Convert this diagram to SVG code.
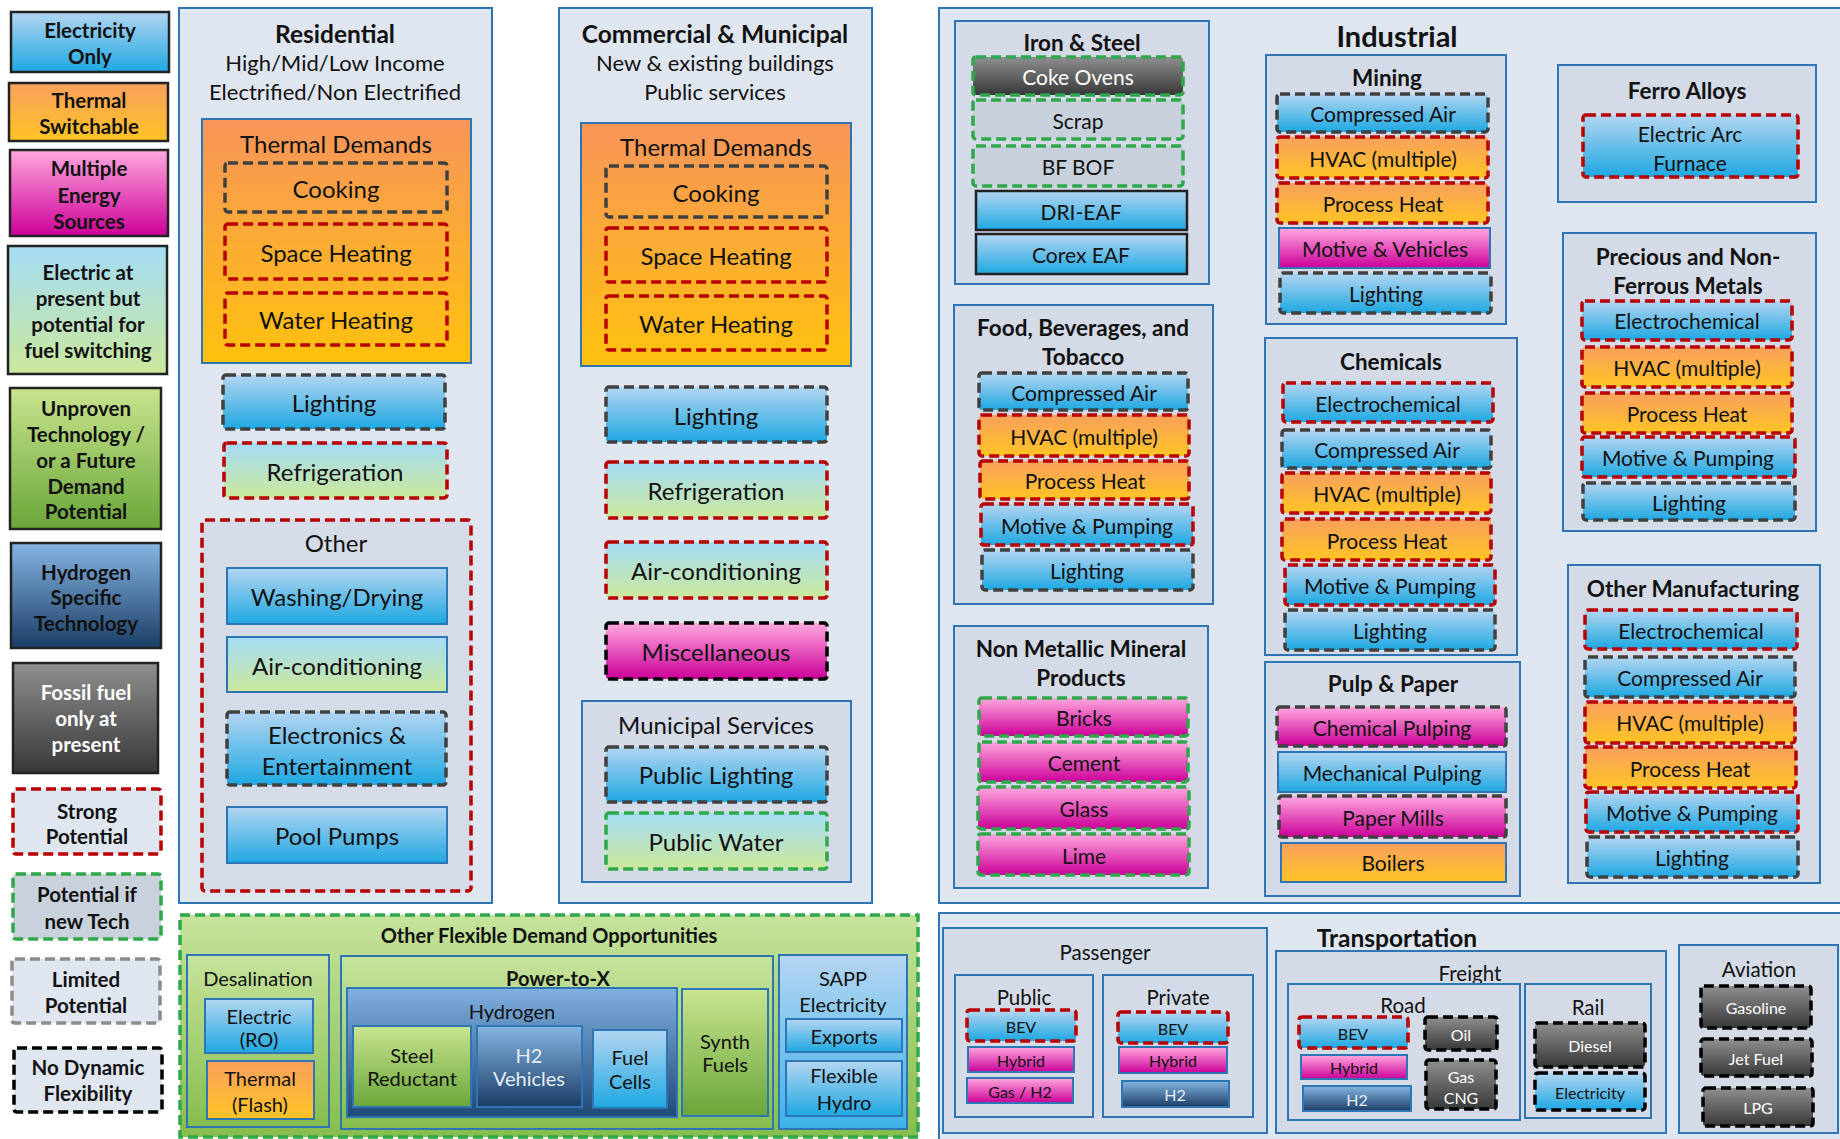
<svg xmlns="http://www.w3.org/2000/svg" width="1840" height="1139" viewBox="0 0 1840 1139">
<defs>
<linearGradient id="gBlue" x1="0" y1="0" x2="0" y2="1"><stop offset="0" stop-color="#b3d5f1"/><stop offset="1" stop-color="#1ea8e2"/></linearGradient>
<linearGradient id="gOrange" x1="0" y1="0" x2="0" y2="1"><stop offset="0" stop-color="#f9a05e"/><stop offset="1" stop-color="#ffc424"/></linearGradient>
<linearGradient id="gThermal" x1="0" y1="0" x2="0" y2="1"><stop offset="0" stop-color="#f8955a"/><stop offset="1" stop-color="#ffc20e"/></linearGradient>
<linearGradient id="gPink" x1="0" y1="0" x2="0" y2="1"><stop offset="0" stop-color="#ffa8de"/><stop offset="1" stop-color="#cc0099"/></linearGradient>
<linearGradient id="gBG" x1="0" y1="0" x2="0" y2="1"><stop offset="0" stop-color="#a4dcf6"/><stop offset="1" stop-color="#cbe89c"/></linearGradient>
<linearGradient id="gGreen" x1="0" y1="0" x2="0" y2="1"><stop offset="0" stop-color="#c8e48e"/><stop offset="1" stop-color="#6aa63a"/></linearGradient>
<linearGradient id="gGreenL" x1="0" y1="0" x2="0" y2="1"><stop offset="0" stop-color="#c6e39c"/><stop offset="1" stop-color="#86bd4c"/></linearGradient>
<linearGradient id="gH2" x1="0" y1="0" x2="0" y2="1"><stop offset="0" stop-color="#86b5e3"/><stop offset="1" stop-color="#1a3e66"/></linearGradient>
<linearGradient id="gH2box" x1="0" y1="0" x2="0" y2="1"><stop offset="0" stop-color="#7fb0e0"/><stop offset="1" stop-color="#1f4a78"/></linearGradient>
<linearGradient id="gGray" x1="0" y1="0" x2="0" y2="1"><stop offset="0" stop-color="#8f8f8f"/><stop offset="1" stop-color="#383838"/></linearGradient>
<linearGradient id="gSapp" x1="0" y1="0" x2="0" y2="1"><stop offset="0" stop-color="#b5d6f2"/><stop offset="1" stop-color="#3db2e8"/></linearGradient>
</defs>
<style>
.panel{fill:#dfe6ef;stroke:#2e75b6;stroke-width:2}
.sub{fill:#d4dbe7;stroke:#2e75b6;stroke-width:2}
.sol{stroke:#2e75b6;stroke-width:2}
.dk{stroke:#222;stroke-width:2.5}
.dR{stroke:#b80000;stroke-width:3.5;stroke-dasharray:10 5}
.dG{stroke:#2ea84a;stroke-width:3.5;stroke-dasharray:10 5}
.dD{stroke:#404040;stroke-width:3.5;stroke-dasharray:10 5}
.dK{stroke:#000;stroke-width:3.5;stroke-dasharray:10 5}
.dL{stroke:#8c8c8c;stroke-width:3.5;stroke-dasharray:10 5}
.fB{fill:url(#gBlue)}.fO{fill:url(#gOrange)}.fP{fill:url(#gPink)}.fBG{fill:url(#gBG)}.fG{fill:url(#gGreen)}.fH{fill:url(#gH2)}.fY{fill:url(#gGray)}
text{font-family:Lato,'Liberation Sans',sans-serif;fill:#111;text-anchor:middle;dominant-baseline:central}
.lg{font-weight:bold;font-size:20.5px}
.ti{font-weight:bold;font-size:24.5px}
.st{font-size:22px}
.td{font-size:24px}
.it{font-size:24px}
.ih{font-weight:bold;font-size:22.5px}
.ii{font-size:21px}
.tr{font-size:16px}
.tl{font-size:20.5px}
.of{font-size:20px}
.w{fill:#fff}
.lt{fill:#e6edf6}
</style>

<g id="legend">
<g id="lg-electricity"><rect x="11" y="12" width="158" height="60" class="fB dk"/><text class="lg" x="90" y="30">Electricity</text><text class="lg" x="90" y="56">Only</text></g>
<g id="lg-thermal"><rect x="9" y="83" width="159" height="58" class="fO dk"/><text class="lg" x="89" y="100">Thermal</text><text class="lg" x="89" y="126">Switchable</text></g>
<g id="lg-multiple"><rect x="10" y="150" width="158" height="86" class="fP dk"/><text class="lg" x="89" y="168">Multiple</text><text class="lg" x="89" y="195">Energy</text><text class="lg" x="89" y="221">Sources</text></g>
<g id="lg-electric-present"><rect x="8" y="246" width="159" height="128" class="fBG dk"/><text class="lg" x="88" y="272">Electric at</text><text class="lg" x="88" y="298">present but</text><text class="lg" x="88" y="324">potential for</text><text class="lg" x="88" y="350">fuel switching</text></g>
<g id="lg-unproven"><rect x="10" y="388" width="151" height="141" class="fG dk"/><text class="lg" x="86" y="408">Unproven</text><text class="lg" x="86" y="434">Technology /</text><text class="lg" x="86" y="460">or a Future</text><text class="lg" x="86" y="486">Demand</text><text class="lg" x="86" y="511">Potential</text></g>
<g id="lg-hydrogen"><rect x="11" y="543" width="150" height="105" class="fH dk"/><text class="lg" x="86" y="572">Hydrogen</text><text class="lg" x="86" y="597">Specific</text><text class="lg" x="86" y="623">Technology</text></g>
<g id="lg-fossil"><rect x="13" y="663" width="145" height="110" class="fY dk"/><text class="lg w" x="86" y="692">Fossil fuel</text><text class="lg w" x="86" y="718">only at</text><text class="lg w" x="86" y="744">present</text></g>
<g id="lg-strong"><rect x="13" y="789" width="148" height="65" rx="3" fill="#dfe6ef" class="dR"/><text class="lg" x="87" y="811">Strong</text><text class="lg" x="87" y="836">Potential</text></g>
<g id="lg-newtech"><rect x="13" y="874" width="148" height="65" rx="3" fill="#c9d1dd" class="dG"/><text class="lg" x="87" y="894">Potential if</text><text class="lg" x="87" y="921">new Tech</text></g>
<g id="lg-limited"><rect x="12" y="959" width="148" height="64" rx="3" fill="#dfe6ef" class="dL"/><text class="lg" x="86" y="979">Limited</text><text class="lg" x="86" y="1005">Potential</text></g>
<g id="lg-nodynamic"><rect x="14" y="1048" width="148" height="64" rx="3" fill="#dfe6ef" class="dK"/><text class="lg" x="88" y="1067">No Dynamic</text><text class="lg" x="88" y="1093">Flexibility</text></g>
</g>

<g id="residential">
<rect x="179" y="8" width="313" height="895" class="panel"/>
<text class="ti" x="335" y="33">Residential</text>
<text class="st" x="335" y="62">High/Mid/Low Income</text>
<text class="st" x="335" y="91">Electrified/Non Electrified</text>
<g id="res-thermal"><rect x="202" y="119" width="269" height="244" fill="url(#gThermal)" class="sol"/><text class="td" x="336" y="143">Thermal Demands</text>
<g id="res-cooking"><rect x="225" y="163" width="222" height="49" rx="3" fill="none" class="dD"/><text class="it" x="336" y="188">Cooking</text></g>
<g id="res-space"><rect x="225" y="224" width="222" height="55" rx="3" fill="none" class="dR"/><text class="it" x="336" y="252">Space Heating</text></g>
<g id="res-water"><rect x="225" y="293" width="222" height="52" rx="3" fill="none" class="dR"/><text class="it" x="336" y="319">Water Heating</text></g>
</g>
<g id="res-lighting"><rect x="223" y="375" width="222" height="54" rx="3" class="fB dD"/><text class="it" x="334" y="402">Lighting</text></g>
<g id="res-refrig"><rect x="224" y="443" width="223" height="55" rx="3" class="fBG dR"/><text class="it" x="335" y="471">Refrigeration</text></g>
<g id="res-other"><rect x="202" y="520" width="269" height="371" rx="3" fill="#d5dce8" class="dR"/><text class="td" x="336" y="542">Other</text>
<g id="res-washing"><rect x="227" y="568" width="220" height="56" class="fB sol"/><text class="it" x="337" y="596">Washing/Drying</text></g>
<g id="res-aircon"><rect x="227" y="637" width="220" height="55" class="fBG sol"/><text class="it" x="337" y="665">Air-conditioning</text></g>
<g id="res-electronics"><rect x="227" y="712" width="219" height="73" rx="3" class="fB dD"/><text class="it" x="337" y="734">Electronics &amp;</text><text class="it" x="337" y="765">Entertainment</text></g>
<g id="res-pool"><rect x="227" y="807" width="220" height="56" class="fB sol"/><text class="it" x="337" y="835">Pool Pumps</text></g>
</g>
</g>

<g id="commercial">
<rect x="559" y="8" width="313" height="895" class="panel"/>
<text class="ti" x="715" y="33">Commercial &amp; Municipal</text>
<text class="st" x="715" y="62">New &amp; existing buildings</text>
<text class="st" x="715" y="91">Public services</text>
<g id="com-thermal"><rect x="581" y="123" width="270" height="243" fill="url(#gThermal)" class="sol"/><text class="td" x="716" y="146">Thermal Demands</text>
<g id="com-cooking"><rect x="606" y="166" width="221" height="51" rx="3" fill="none" class="dD"/><text class="it" x="716" y="192">Cooking</text></g>
<g id="com-space"><rect x="606" y="228" width="221" height="54" rx="3" fill="none" class="dR"/><text class="it" x="716" y="255">Space Heating</text></g>
<g id="com-water"><rect x="606" y="296" width="221" height="54" rx="3" fill="none" class="dR"/><text class="it" x="716" y="323">Water Heating</text></g>
</g>
<g id="com-lighting"><rect x="606" y="387" width="221" height="55" rx="3" class="fB dD"/><text class="it" x="716" y="415">Lighting</text></g>
<g id="com-refrig"><rect x="606" y="462" width="221" height="56" rx="3" class="fBG dR"/><text class="it" x="716" y="490">Refrigeration</text></g>
<g id="com-aircon"><rect x="606" y="542" width="221" height="56" rx="3" class="fBG dR"/><text class="it" x="716" y="570">Air-conditioning</text></g>
<g id="com-misc"><rect x="606" y="623" width="221" height="56" rx="3" class="fP dK"/><text class="it" x="716" y="651">Miscellaneous</text></g>
<g id="com-municipal"><rect x="582" y="701" width="269" height="181" class="sub"/><text class="td" x="716" y="724">Municipal Services</text>
<g id="com-publight"><rect x="606" y="747" width="221" height="55" rx="3" class="fB dD"/><text class="it" x="716" y="774">Public Lighting</text></g>
<g id="com-pubwater"><rect x="606" y="813" width="221" height="56" rx="3" class="fBG dG"/><text class="it" x="716" y="841">Public Water</text></g>
</g>
</g>

<g id="other-flexible">
<rect x="180" y="915" width="738" height="222" fill="url(#gGreenL)" class="dG"/>
<text class="of" x="549" y="935" font-weight="bold" font-size="21">Other Flexible Demand Opportunities</text>
<g id="desalination"><rect x="187" y="955" width="142" height="172" fill="url(#gGreenL)" class="sol"/><text class="of" x="258" y="978">Desalination</text>
<g id="desal-ro"><rect x="205" y="999" width="108" height="54" class="fB sol"/><text class="of" x="259" y="1016">Electric</text><text class="of" x="259" y="1039">(RO)</text></g>
<g id="desal-flash"><rect x="207" y="1061" width="107" height="58" class="fO sol"/><text class="of" x="260" y="1078">Thermal</text><text class="of" x="260" y="1104">(Flash)</text></g>
</g>
<g id="power-to-x"><rect x="341" y="956" width="432" height="173" fill="url(#gGreenL)" class="sol"/><text class="of" x="558" y="978" font-weight="bold" font-size="22">Power-to-X</text>
<g id="hydrogen"><rect x="347" y="988" width="330" height="129" fill="url(#gH2box)" class="sol"/><text class="of" x="512" y="1011" font-size="22">Hydrogen</text>
<g id="steel-reductant"><rect x="353" y="1026" width="118" height="81" class="fG sol"/><text class="of" x="412" y="1055" font-size="18">Steel</text><text class="of" x="412" y="1078" font-size="18">Reductant</text></g>
<g id="h2-vehicles"><rect x="477" y="1026" width="105" height="81" class="fH sol"/><text class="of lt" x="529" y="1055" font-size="18">H2</text><text class="of lt" x="529" y="1078" font-size="18">Vehicles</text></g>
<g id="fuel-cells"><rect x="593" y="1030" width="74" height="78" class="fB sol"/><text class="of" x="630" y="1057" font-size="18">Fuel</text><text class="of" x="630" y="1081" font-size="18">Cells</text></g>
</g>
<g id="synth-fuels"><rect x="682" y="989" width="86" height="127" class="fG sol"/><text class="of" x="725" y="1041" font-size="18">Synth</text><text class="of" x="725" y="1064" font-size="18">Fuels</text></g>
</g>
<g id="sapp"><rect x="779" y="955" width="128" height="174" fill="url(#gSapp)" class="sol"/><text class="of" x="843" y="978">SAPP</text><text class="of" x="843" y="1004">Electricity</text>
<g id="sapp-exports"><rect x="786" y="1019" width="116" height="33" class="fB sol"/><text class="of" x="844" y="1036">Exports</text></g>
<g id="sapp-hydro"><rect x="786" y="1061" width="116" height="55" class="fB sol"/><text class="of" x="844" y="1075">Flexible</text><text class="of" x="844" y="1102">Hydro</text></g>
</g>
</g>

<g id="industrial">
<rect x="939" y="8" width="910" height="895" class="panel"/>
<text x="1397" y="35" font-weight="bold" font-size="29">Industrial</text>
<g id="iron-steel"><rect x="955" y="21" width="254" height="263" class="sub"/><text class="ih" x="1082" y="42">Iron &amp; Steel</text>
<g><rect x="973" y="57" width="210" height="38" rx="3" class="fY dG"/><text class="ii w" x="1078" y="76">Coke Ovens</text></g>
<g><rect x="973" y="100" width="210" height="39" rx="3" fill="#c8d0dc" class="dG"/><text class="ii" x="1078" y="120">Scrap</text></g>
<g><rect x="973" y="146" width="210" height="40" rx="3" fill="#c8d0dc" class="dG"/><text class="ii" x="1078" y="166">BF BOF</text></g>
<g><rect x="976" y="191" width="211" height="39" class="fB dk"/><text class="ii" x="1081" y="211">DRI-EAF</text></g>
<g><rect x="976" y="234" width="211" height="40" class="fB dk"/><text class="ii" x="1081" y="254">Corex EAF</text></g>
</g>
<g id="food"><rect x="954" y="305" width="259" height="299" class="sub"/><text class="ih" x="1083" y="327">Food, Beverages, and</text><text class="ih" x="1083" y="356">Tobacco</text>
<g><rect x="979" y="373" width="209" height="37" rx="3" class="fB dD"/><text class="ii" x="1084" y="392">Compressed Air</text></g>
<g><rect x="979" y="415" width="210" height="41" rx="3" class="fO dR"/><text class="ii" x="1084" y="436">HVAC (multiple)</text></g>
<g><rect x="980" y="461" width="209" height="38" rx="3" class="fO dR"/><text class="ii" x="1085" y="480">Process Heat</text></g>
<g><rect x="981" y="504" width="212" height="41" rx="3" class="fB dR"/><text class="ii" x="1087" y="525">Motive &amp; Pumping</text></g>
<g><rect x="982" y="550" width="211" height="40" rx="3" class="fB dD"/><text class="ii" x="1087" y="570">Lighting</text></g>
</g>
<g id="non-metallic"><rect x="954" y="626" width="254" height="262" class="sub"/><text class="ih" x="1081" y="648">Non Metallic Mineral</text><text class="ih" x="1081" y="677">Products</text>
<g><rect x="979" y="698" width="209" height="38" rx="3" class="fP dG"/><text class="ii" x="1084" y="717">Bricks</text></g>
<g><rect x="979" y="742" width="209" height="40" rx="3" class="fP dG"/><text class="ii" x="1084" y="762">Cement</text></g>
<g><rect x="978" y="787" width="211" height="42" rx="3" class="fP dG"/><text class="ii" x="1084" y="808">Glass</text></g>
<g><rect x="978" y="834" width="211" height="41" rx="3" class="fP dG"/><text class="ii" x="1084" y="855">Lime</text></g>
</g>
<g id="mining"><rect x="1266" y="55" width="240" height="269" class="sub"/><text class="ih" x="1387" y="77">Mining</text>
<g><rect x="1277" y="94" width="211" height="38" rx="3" class="fB dD"/><text class="ii" x="1383" y="113">Compressed Air</text></g>
<g><rect x="1277" y="137" width="211" height="41" rx="3" class="fO dR"/><text class="ii" x="1383" y="158">HVAC (multiple)</text></g>
<g><rect x="1277" y="183" width="211" height="40" rx="3" class="fO dR"/><text class="ii" x="1383" y="203">Process Heat</text></g>
<g><rect x="1279" y="228" width="211" height="40" class="fP sol"/><text class="ii" x="1385" y="248">Motive &amp; Vehicles</text></g>
<g><rect x="1280" y="273" width="211" height="40" rx="3" class="fB dD"/><text class="ii" x="1386" y="293">Lighting</text></g>
</g>
<g id="chemicals"><rect x="1265" y="338" width="252" height="317" class="sub"/><text class="ih" x="1391" y="361">Chemicals</text>
<g><rect x="1283" y="383" width="210" height="39" rx="3" class="fB dR"/><text class="ii" x="1388" y="403">Electrochemical</text></g>
<g><rect x="1282" y="430" width="209" height="38" rx="3" class="fB dD"/><text class="ii" x="1387" y="449">Compressed Air</text></g>
<g><rect x="1282" y="473" width="209" height="40" rx="3" class="fO dR"/><text class="ii" x="1387" y="493">HVAC (multiple)</text></g>
<g><rect x="1282" y="519" width="209" height="41" rx="3" class="fO dR"/><text class="ii" x="1387" y="540">Process Heat</text></g>
<g><rect x="1285" y="565" width="210" height="40" rx="3" class="fB dR"/><text class="ii" x="1390" y="585">Motive &amp; Pumping</text></g>
<g><rect x="1285" y="610" width="210" height="40" rx="3" class="fB dD"/><text class="ii" x="1390" y="630">Lighting</text></g>
</g>
<g id="pulp-paper"><rect x="1265" y="662" width="255" height="234" class="sub"/><text class="ih" x="1393" y="683">Pulp &amp; Paper</text>
<g><rect x="1277" y="707" width="229" height="39" rx="3" class="fP dD"/><text class="ii" x="1392" y="727">Chemical Pulping</text></g>
<g><rect x="1278" y="752" width="228" height="40" class="fB sol"/><text class="ii" x="1392" y="772">Mechanical Pulping</text></g>
<g><rect x="1279" y="796" width="227" height="41" rx="3" class="fP dD"/><text class="ii" x="1393" y="817">Paper Mills</text></g>
<g><rect x="1281" y="843" width="225" height="39" class="fO sol"/><text class="ii" x="1393" y="862">Boilers</text></g>
</g>
<g id="ferro-alloys"><rect x="1558" y="65" width="258" height="137" class="sub"/><text class="ih" x="1687" y="90">Ferro Alloys</text>
<g><rect x="1583" y="115" width="215" height="62" rx="3" class="fB dR"/><text class="ii" x="1690" y="133">Electric Arc</text><text class="ii" x="1690" y="162">Furnace</text></g>
</g>
<g id="precious"><rect x="1563" y="233" width="253" height="298" class="sub"/><text class="ih" x="1688" y="256">Precious and Non-</text><text class="ih" x="1688" y="285">Ferrous Metals</text>
<g><rect x="1582" y="301" width="210" height="39" rx="3" class="fB dR"/><text class="ii" x="1687" y="320">Electrochemical</text></g>
<g><rect x="1582" y="347" width="210" height="40" rx="3" class="fO dR"/><text class="ii" x="1687" y="367">HVAC (multiple)</text></g>
<g><rect x="1582" y="393" width="210" height="40" rx="3" class="fO dR"/><text class="ii" x="1687" y="413">Process Heat</text></g>
<g><rect x="1582" y="437" width="213" height="40" rx="3" class="fB dR"/><text class="ii" x="1688" y="457">Motive &amp; Pumping</text></g>
<g><rect x="1583" y="483" width="212" height="37" rx="3" class="fB dD"/><text class="ii" x="1689" y="502">Lighting</text></g>
</g>
<g id="other-manufacturing"><rect x="1568" y="565" width="252" height="318" class="sub"/><text class="ih" x="1693" y="588">Other Manufacturing</text>
<g><rect x="1585" y="610" width="212" height="39" rx="3" class="fB dR"/><text class="ii" x="1691" y="630">Electrochemical</text></g>
<g><rect x="1585" y="657" width="210" height="40" rx="3" class="fB dD"/><text class="ii" x="1690" y="677">Compressed Air</text></g>
<g><rect x="1585" y="702" width="210" height="41" rx="3" class="fO dR"/><text class="ii" x="1690" y="722">HVAC (multiple)</text></g>
<g><rect x="1585" y="747" width="211" height="41" rx="3" class="fO dR"/><text class="ii" x="1690" y="768">Process Heat</text></g>
<g><rect x="1586" y="792" width="212" height="40" rx="3" class="fB dR"/><text class="ii" x="1692" y="812">Motive &amp; Pumping</text></g>
<g><rect x="1587" y="837" width="211" height="40" rx="3" class="fB dD"/><text class="ii" x="1692" y="857">Lighting</text></g>
</g>
</g>

<g id="transportation">
<rect x="939" y="913" width="910" height="235" class="panel"/>
<text class="ti" x="1397" y="937">Transportation</text>
<g id="passenger"><rect x="943" y="928" width="324" height="205" class="sub"/><text class="tl" x="1105" y="952">Passenger</text>
<g id="public"><rect x="955" y="975" width="138" height="142" class="sub"/><text class="tl" x="1024" y="997">Public</text>
<g><rect x="967" y="1010" width="109" height="31" rx="3" class="fB dR"/><text class="tr" x="1021" y="1026">BEV</text></g>
<g><rect x="968" y="1047" width="106" height="25" class="fP sol"/><text class="tr" x="1021" y="1060">Hybrid</text></g>
<g><rect x="967" y="1078" width="106" height="25" class="fP sol"/><text class="tr" x="1020" y="1091">Gas / H2</text></g>
</g>
<g id="private"><rect x="1103" y="975" width="150" height="142" class="sub"/><text class="tl" x="1178" y="997">Private</text>
<g><rect x="1118" y="1012" width="110" height="31" rx="3" class="fB dR"/><text class="tr" x="1173" y="1028">BEV</text></g>
<g><rect x="1119" y="1047" width="108" height="26" class="fP sol"/><text class="tr" x="1173" y="1060">Hybrid</text></g>
<g><rect x="1122" y="1081" width="107" height="26" class="fH sol"/><text class="tr lt" x="1175" y="1094">H2</text></g>
</g>
</g>
<g id="freight"><rect x="1276" y="951" width="390" height="182" class="sub"/><text class="tl" x="1470" y="973">Freight</text>
<g id="road"><rect x="1288" y="984" width="232" height="136" class="sub"/><text class="tl" x="1403" y="1005">Road</text>
<g><rect x="1299" y="1017" width="109" height="31" rx="3" class="fB dR"/><text class="tr" x="1353" y="1033">BEV</text></g>
<g><rect x="1301" y="1055" width="106" height="24" class="fP sol"/><text class="tr" x="1354" y="1067">Hybrid</text></g>
<g><rect x="1303" y="1086" width="108" height="25" class="fH sol"/><text class="tr lt" x="1357" y="1099">H2</text></g>
<g><rect x="1425" y="1017" width="72" height="33" rx="3" class="fY dK"/><text class="tr w" x="1461" y="1034">Oil</text></g>
<g><rect x="1426" y="1060" width="70" height="49" rx="3" class="fY dK"/><text class="tr w" x="1461" y="1076">Gas</text><text class="tr w" x="1461" y="1097">CNG</text></g>
</g>
<g id="rail"><rect x="1525" y="984" width="126" height="134" class="sub"/><text class="tl" x="1588" y="1007">Rail</text>
<g><rect x="1535" y="1023" width="110" height="44" rx="3" class="fY dK"/><text class="tr w" x="1590" y="1045">Diesel</text></g>
<g><rect x="1535" y="1073" width="110" height="37" rx="3" class="fB dK"/><text class="tr" x="1590" y="1092" font-size="15">Electricity</text></g>
</g>
</g>
<g id="aviation"><rect x="1679" y="945" width="159" height="188" class="sub"/><text class="tl" x="1759" y="969" font-size="21">Aviation</text>
<g><rect x="1701" y="986" width="110" height="42" rx="3" class="fY dK"/><text class="tr w" x="1756" y="1007">Gasoline</text></g>
<g><rect x="1701" y="1039" width="111" height="37" rx="3" class="fY dK"/><text class="tr w" x="1756" y="1058">Jet Fuel</text></g>
<g><rect x="1703" y="1088" width="110" height="38" rx="3" class="fY dK"/><text class="tr w" x="1758" y="1107">LPG</text></g>
</g>
</g>

<g id="connectors"></g>
</svg>
